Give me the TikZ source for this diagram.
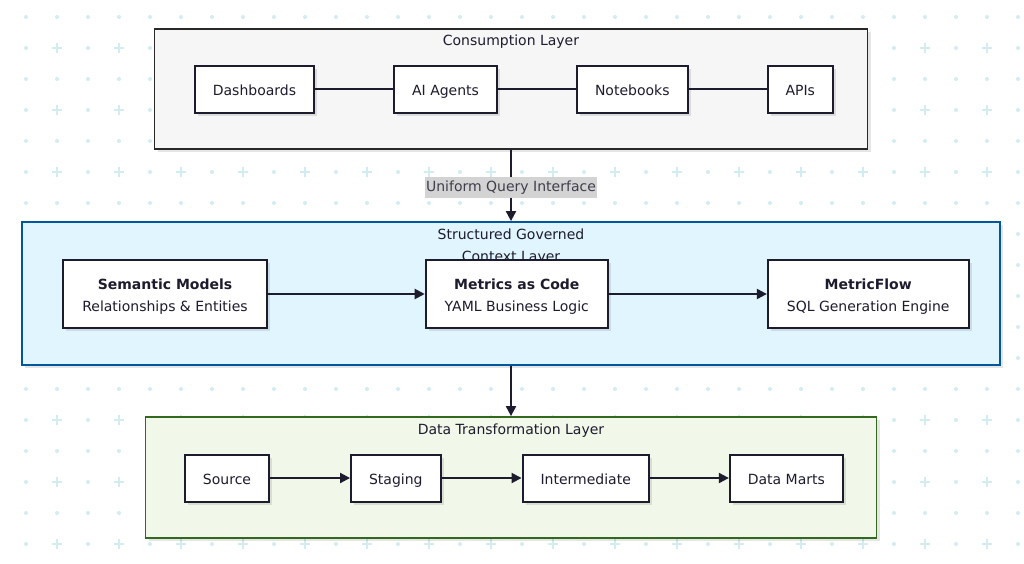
\documentclass[tikz,border=0pt]{standalone}
\usepackage{fontspec}
\setmainfont{DejaVu Sans}
\usetikzlibrary{arrows.meta,positioning,shadows}
\definecolor{ink}{RGB}{28,28,46}
\definecolor{dotc}{RGB}{210,236,242}
\definecolor{consfill}{RGB}{246,246,246}
\definecolor{consline}{RGB}{40,40,40}
\definecolor{ctxfill}{RGB}{225,245,254}
\definecolor{ctxline}{RGB}{1,87,155}
\definecolor{datfill}{RGB}{241,248,233}
\definecolor{datline}{RGB}{51,105,30}
\definecolor{lblfill}{RGB}{211,211,211}

\begin{document}
\begin{tikzpicture}[x=1pt,y=-1pt,font=\fontsize{14}{22}\selectfont,node distance=78pt,
  shd/.style={drop shadow={shadow xshift=3pt,shadow yshift=-3pt,fill=black,opacity=0.1}},
  b/.style={draw=ink,line width=2pt,fill=white,text=ink,shd,minimum height=47pt,inner xsep=18pt,
    text height=14pt,text depth=1pt},
  bb/.style={draw=ink,line width=2pt,fill=white,text=ink,shd,minimum height=68pt,inner xsep=19pt,
    text height=38.5pt,align=center},
  layer/.style={draw,line width=1.8pt,shd,inner sep=0pt},
  ttl/.style={text=ink,align=center},
  e/.style={line width=2pt,ink},
  a/.style={e,-{Triangle[length=10pt,width=10pt]}}]
\useasboundingbox (0,0) rectangle (1024,564);
\fill[white] (0,0) rectangle (1024,564);
% dotted grid in the back
\foreach \i in {0,...,32}{
  \foreach \j in {0,...,17}{
    \pgfmathparse{int(mod(\i,2)*mod(\j,2))}
    \ifnum\pgfmathresult=1
      \draw[dotc,line width=2.8pt] (26+31*\i-5,17+31*\j) -- ++(10,0) (26+31*\i,17+31*\j-5) -- ++(0,10);
    \else
      \fill[dotc] (26+31*\i,17+31*\j) circle[radius=2pt];
    \fi}}
% consumption
\node[layer,draw=consline,fill=consfill,minimum width=713pt,minimum height=120pt] (cons) at (511,89) {};
\node[ttl] at ([yshift=-14pt]cons.north) {Consumption Layer};
\node[b] (dash) at (254.5,89.5) {Dashboards};
\node[b,right=of dash] (agents) {AI Agents};
\node[b,right=of agents] (nb) {Notebooks};
\node[b,right=of nb] (apis) {APIs};
\draw[e] (dash) -- (agents); \draw[e] (agents) -- (nb); \draw[e] (nb) -- (apis);
% context
\node[layer,draw=ctxline,fill=ctxfill,minimum width=978pt,minimum height=143pt] (ctx) at (511,293.5) {};
\node[ttl] at ([yshift=-26pt]ctx.north) {Structured Governed\\Context Layer};
\node[bb] (sem) at (165,294) {\textbf{Semantic Models}\\Relationships \& Entities};
\node[bb,right=157pt of sem] (mac) {\textbf{Metrics as Code}\\YAML Business Logic};
\node[bb,right=158pt of mac] (mf) {\textbf{MetricFlow}\\SQL Generation Engine};
\draw[a] (sem) -- (mac); \draw[a] (mac) -- (mf);
% transformation
\node[layer,draw=datline,fill=datfill,minimum width=731pt,minimum height=121pt] (dat) at (511,477.5) {};
\node[ttl] at ([yshift=-15pt]dat.north) {Data Transformation Layer};
\node[b] (src) at (227,478) {Source};
\node[b,right=80pt of src] (stg) {Staging};
\node[b,right=80pt of stg] (mid) {Intermediate};
\node[b,right=79pt of mid] (mart) {Data Marts};
\draw[a] (src) -- (stg); \draw[a] (stg) -- (mid); \draw[a] (mid) -- (mart);
% between layers
\draw[a] (cons) -- node[pos=0.53,fill=lblfill,text=ink!85,inner xsep=1.5pt,inner ysep=4pt] {Uniform Query Interface} (ctx);
\draw[a] (ctx) -- (dat);
\end{tikzpicture}
\end{document}
